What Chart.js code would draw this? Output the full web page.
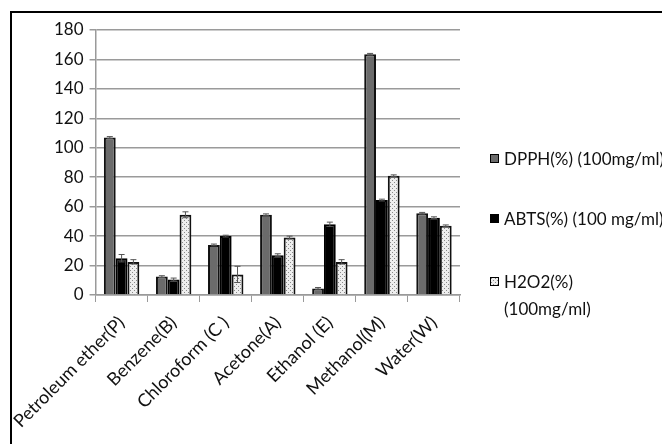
<!DOCTYPE html>
<html>
<head>
<meta charset="utf-8">
<script src="https://cdn.jsdelivr.net/npm/chart.js@4"></script>
<style>
  body { margin: 0; background: #fff; overflow: hidden; width: 662px; height: 444px; position: relative; }
  #frame { position: absolute; left: 10px; top: 11px; width: 700px; height: 500px; border-left: 2px solid #000; border-top: 2px solid #000; }
  #wrap { position: absolute; left: 0; top: 0; width: 662px; height: 444px; }
  .leg { position: absolute; left: 490px; font-family: Lato, sans-serif; font-size: 17px; color: #111; white-space: nowrap; line-height: 27px; }
  .box { position: absolute; left: 0; width: 7px; height: 7px; border: 1px solid #000; }
  .txt { position: absolute; left: 14px; }
</style>
</head>
<body>
<div id="frame"></div>
<div id="wrap"><canvas id="myChart"></canvas></div>
<div class="leg" style="top:145px"><div class="box" style="top:9px;background:#6b6b6b"></div><div class="txt">DPPH(%) (100mg/ml)</div></div>
<div class="leg" style="top:205px"><div class="box" style="top:9px;background:#000"></div><div class="txt">ABTS(%) (100 mg/ml)</div></div>
<div class="leg" style="top:268px"><div class="box" id="hbox" style="top:9px"></div><div class="txt">H2O2(%)<br>(100mg/ml)</div></div>
<script>
var categories = ["Petroleum ether(P)", "Benzene(B)", "Chloroform (C )", "Acetone(A)", "Ethanol (E)", "Methanol(M)", "Water(W)"];
var dpph   = [107, 12.5, 34, 54.5, 4.5, 163.5, 55.5];
var abts   = [25, 10.5, 40, 27, 48, 64.5, 52.5];
var h2o2   = [22.5, 54.5, 14, 39, 22.5, 81, 47];
var dpphErr = [0.6, 0.6, 0.6, 0.6, 0.6, 0.6, 0.6];
var abtsErr = [2.5, 1, 0.6, 1, 1.5, 0.6, 0.6];
var h2o2Err = [1.5, 2, 5.5, 1, 1.5, 0.6, 0.6];
var yTicks  = [0, 20, 40, 60, 80, 100, 120, 140, 160, 180];

// dotted fill for the H2O2 series
function makePattern() {
  var c = document.createElement("canvas");
  c.width = 4; c.height = 4;
  var g = c.getContext("2d");
  g.fillStyle = "#eeeeee";
  g.fillRect(0, 0, 4, 4);
  g.fillStyle = "#8a8a8a";
  g.fillRect(0, 0, 1, 1);
  g.fillRect(2, 2, 1, 1);
  return c;
}
var patCanvas = makePattern();
document.getElementById("hbox").style.background = "url(" + patCanvas.toDataURL() + ")";

var ctx = document.getElementById("myChart").getContext("2d");
var pattern = ctx.createPattern(patCanvas, "repeat");

var errorBars = {
  id: "errorBars",
  afterDatasetsDraw: function(chart) {
    var c = chart.ctx;
    var y = chart.scales.y;
    c.save();
    c.strokeStyle = "#555";
    c.lineWidth = 1;
    chart.data.datasets.forEach(function(ds, i) {
      var meta = chart.getDatasetMeta(i);
      meta.data.forEach(function(bar, j) {
        var v = ds.data[j], e = ds.err[j];
        var top = y.getPixelForValue(v + e), bot = y.getPixelForValue(v - e);
        c.beginPath();
        c.moveTo(bar.x, top); c.lineTo(bar.x, bot);
        c.moveTo(bar.x - 3, top); c.lineTo(bar.x + 3, top);
        c.moveTo(bar.x - 3, bot); c.lineTo(bar.x + 3, bot);
        c.stroke();
      });
    });
    c.restore();
  }
};

var myChart = new Chart(ctx, {
  type: "bar",
  data: {
    labels: categories,
    datasets: [
      { label: "DPPH(%) (100mg/ml)", data: dpph, err: dpphErr, backgroundColor: "#6b6b6b", borderColor: "#111", borderWidth: 2 },
      { label: "ABTS(%) (100 mg/ml)", data: abts, err: abtsErr, backgroundColor: "#000", borderColor: "#000", borderWidth: 2 },
      { label: "H2O2(%) (100mg/ml)", data: h2o2, err: h2o2Err, backgroundColor: pattern, borderColor: "#111", borderWidth: 2 }
    ]
  },
  options: {
    responsive: true,
    maintainAspectRatio: false,
    animation: false,
    layout: { padding: { left: 0, top: 30, right: 202, bottom: 0 } },
    plugins: { legend: { display: false }, tooltip: { enabled: false } },
    datasets: { bar: { categoryPercentage: 0.68, barPercentage: 1.0 } },
    scales: {
      x: {
        grid: { drawOnChartArea: false, drawTicks: true, tickLength: 7, offset: true, color: "#9a9a9a", lineWidth: 1 },
        border: { color: "#9a9a9a", width: 1.5 },
        ticks: { minRotation: 45, maxRotation: 45, color: "#111", font: { family: "Lato", size: 18 }, padding: 10 },
        afterFit: function(s) { s.height = 149; }
      },
      y: {
        min: 0, max: 180,
        afterBuildTicks: function(s) { s.ticks = yTicks.map(function(v) { return { value: v }; }); },
        grid: { color: "#9a9a9a", lineWidth: 1.5, tickLength: 6 },
        border: { color: "#9a9a9a", width: 1.5 },
        ticks: { color: "#111", font: { family: "Lato", size: 17 }, padding: 6 },
        afterFit: function(s) { s.width = 95; }
      }
    }
  },
  plugins: [errorBars]
});
</script>
</body>
</html>
